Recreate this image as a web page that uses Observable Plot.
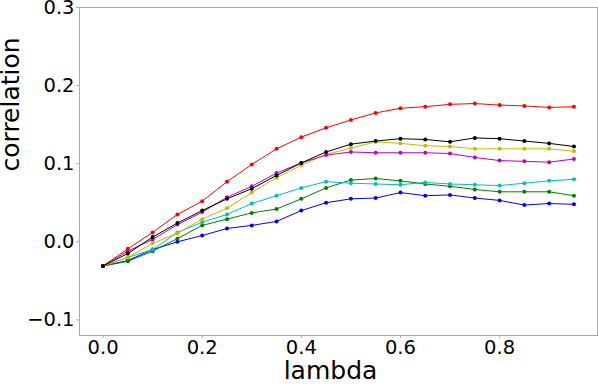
<!DOCTYPE html>
<html>
<head>
<meta charset="utf-8">
<script src="https://cdn.jsdelivr.net/npm/d3@7"></script>
<script src="https://cdn.jsdelivr.net/npm/@observablehq/plot@0.6"></script>
<style>
  html, body { margin: 0; padding: 0; background: #fff; }
  svg { display: block; }
</style>
</head>
<body>
<div id="chart"></div>
<script>
const lambdas = [0.00,0.05,0.10,0.15,0.20,0.25,0.30,0.35,0.40,0.45,0.50,0.55,0.60,0.65,0.70,0.75,0.80,0.85,0.90,0.95];

const blue    = [-0.031,-0.024,-0.010,0.000,0.008,0.017,0.021,0.026,0.040,0.050,0.055,0.056,0.063,0.059,0.060,0.056,0.053,0.047,0.049,0.048];
const green   = [-0.031,-0.025,-0.012,0.004,0.021,0.029,0.037,0.042,0.055,0.069,0.079,0.081,0.078,0.074,0.071,0.067,0.064,0.064,0.064,0.059];
const cyan    = [-0.031,-0.020,-0.010,0.012,0.025,0.035,0.049,0.059,0.069,0.077,0.075,0.074,0.073,0.076,0.074,0.073,0.072,0.075,0.078,0.080];
const yellow  = [-0.031,-0.020,-0.002,0.011,0.029,0.043,0.063,0.082,0.098,0.112,0.120,0.128,0.126,0.123,0.122,0.119,0.119,0.119,0.119,0.116];
const magenta = [-0.031,-0.012,0.003,0.022,0.038,0.057,0.071,0.088,0.101,0.111,0.115,0.114,0.114,0.114,0.113,0.108,0.104,0.103,0.102,0.106];
const red     = [-0.031,-0.009,0.012,0.035,0.052,0.077,0.099,0.119,0.134,0.146,0.156,0.165,0.171,0.173,0.176,0.177,0.175,0.174,0.172,0.173];
const black   = [-0.031,-0.015,0.006,0.024,0.040,0.055,0.068,0.085,0.101,0.115,0.125,0.129,0.132,0.131,0.128,0.133,0.132,0.129,0.126,0.122];

const seriesNames  = ["b","g","c","y","m","r","k"];
const seriesValues = [blue, green, cyan, yellow, magenta, red, black];
const seriesColors = ["#0000ff","#008000","#00bfbf","#bfbf00","#bf00bf","#ff0000","#000000"];

const xTicks = [0.0, 0.2, 0.4, 0.6, 0.8];
const yTicks = [-0.1, 0.0, 0.1, 0.2, 0.3];

const rows = [];
seriesNames.forEach((name, s) => {
  seriesValues[s].forEach((v, i) => rows.push({series: name, lambda: lambdas[i], value: v}));
});

const fmt = d3.format(".1f");

const chart = Plot.plot({
  width: 598,
  height: 386,
  marginLeft: 79,
  marginRight: 1,
  marginTop: 7,
  marginBottom: 51,
  style: {fontFamily: "DejaVu Sans", background: "#fff", overflow: "visible"},
  x: {domain: [-0.0475, 0.9975]},
  y: {domain: [-0.12, 0.3]},
  color: {domain: seriesNames, range: seriesColors},
  marks: [
    Plot.axisX({ticks: xTicks, tickFormat: fmt, tickSize: 3, tickPadding: 2, fontSize: 19.5, stroke: "#aaa", color: "#000", label: null}),
    Plot.axisY({ticks: yTicks, tickFormat: fmt, tickSize: 3, tickPadding: 2, fontSize: 19.5, stroke: "#aaa", color: "#000", label: null}),
    Plot.frame({stroke: "#aaa", strokeWidth: 1}),
    Plot.line(rows, {x: "lambda", y: "value", z: "series", stroke: "series", strokeWidth: 1}),
    Plot.dot(rows, {x: "lambda", y: "value", fill: "series", r: 2}),
    Plot.text(["lambda"], {frameAnchor: "bottom", text: d => d, dy: 43, dx: -8, fontSize: 25, fill: "#000"}),
    Plot.text(["correlation"], {frameAnchor: "left", text: d => d, rotate: -90, dx: -69, fontSize: 25, fill: "#000"})
  ]
});

document.getElementById("chart").appendChild(chart);
</script>
</body>
</html>
